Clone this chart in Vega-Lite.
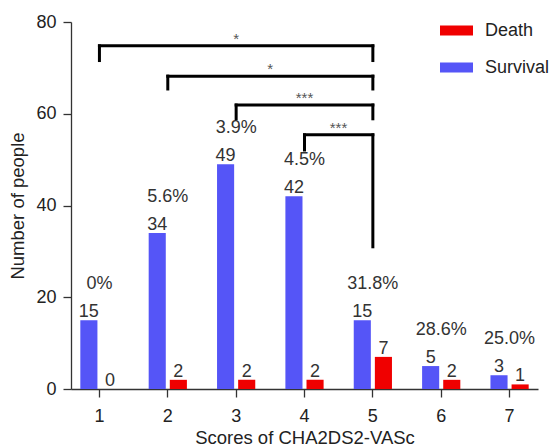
{
  "$schema": "https://vega.github.io/schema/vega-lite/v6.json",
  "width": 467,
  "height": 367,
  "autosize": {"type": "none"},
  "padding": {"left": 71, "top": 22, "right": 14, "bottom": 59},
  "config": {
    "view": {"stroke": null},
    "font": "Liberation Sans",
    "axis": {
      "grid": false,
      "domainColor": "#333333",
      "domainWidth": 1.3,
      "tickColor": "#333333",
      "tickWidth": 1.3,
      "tickSize": 8,
      "labelFontSize": 18,
      "labelColor": "#222222",
      "titleFontSize": 18.5,
      "titleFontWeight": "normal",
      "titleColor": "#222222"
    }
  },
  "datasets": {
    "bars": [
      {"score": "1", "group": "Survival", "n": 15, "pct": "0%"},
      {"score": "1", "group": "Death", "n": 0},
      {"score": "2", "group": "Survival", "n": 34, "pct": "5.6%"},
      {"score": "2", "group": "Death", "n": 2},
      {"score": "3", "group": "Survival", "n": 49, "pct": "3.9%"},
      {"score": "3", "group": "Death", "n": 2},
      {"score": "4", "group": "Survival", "n": 42, "pct": "4.5%"},
      {"score": "4", "group": "Death", "n": 2},
      {"score": "5", "group": "Survival", "n": 15, "pct": "31.8%"},
      {"score": "5", "group": "Death", "n": 7},
      {"score": "6", "group": "Survival", "n": 5, "pct": "28.6%"},
      {"score": "6", "group": "Death", "n": 2},
      {"score": "7", "group": "Survival", "n": 3, "pct": "25.0%"},
      {"score": "7", "group": "Death", "n": 1}
    ],
    "brackets": [
      {"from": "1", "to": "5", "mid": "3", "top": 74.8, "leftEnd": 71.6, "rightEnd": 71.6, "sig": "*"},
      {"from": "2", "to": "5", "mid": "3", "top": 68.2, "leftEnd": 65.4, "rightEnd": 65.4, "sig": "*"},
      {"from": "3", "to": "5", "mid": "4", "top": 61.9, "leftEnd": 58.9, "rightEnd": 58.9, "sig": "***"},
      {"from": "4", "to": "5", "mid": "4", "top": 55.4, "leftEnd": 52.1, "rightEnd": 31.0, "sig": "***"}
    ]
  },
  "data": {"name": "bars"},
  "layer": [
    {
      "mark": {"type": "bar"},
      "encoding": {
        "x": {
          "field": "score",
          "type": "nominal",
          "scale": {"domain": ["1", "2", "3", "4", "5", "6", "7"], "paddingInner": 0.3, "paddingOuter": 0.066},
          "axis": {"title": "Scores of CHA2DS2-VASc", "labelAngle": 0, "labelPadding": 10, "titlePadding": 3}
        },
        "xOffset": {
          "field": "group",
          "type": "nominal",
          "scale": {"domain": ["Survival", "Death"], "paddingInner": 0.19, "paddingOuter": 0.228}
        },
        "y": {
          "field": "n",
          "type": "quantitative",
          "scale": {"domain": [0, 80], "nice": false},
          "axis": {"title": "Number of people", "values": [0, 20, 40, 60, 80], "labelPadding": 7, "titlePadding": 8}
        },
        "color": {
          "field": "group",
          "type": "nominal",
          "scale": {"domain": ["Death", "Survival"], "range": ["#F00000", "#5555F7"]},
          "legend": {
            "orient": "none",
            "legendX": 369,
            "legendY": -8,
            "title": null,
            "padding": 0,
            "symbolType": "M-1,-0.3H1V0.3H-1Z",
            "symbolSize": 1089,
            "symbolStrokeWidth": 0,
            "labelFontSize": 18,
            "labelColor": "#222222",
            "labelOffset": 12,
            "rowPadding": 11
          }
        }
      }
    },
    {
      "mark": {"type": "text", "baseline": "alphabetic", "dy": -3, "fontSize": 18, "color": "#333333"},
      "encoding": {
        "x": {"field": "score", "type": "nominal"},
        "xOffset": {"field": "group", "type": "nominal"},
        "y": {"field": "n", "type": "quantitative"},
        "text": {"field": "n", "type": "quantitative"}
      }
    },
    {
      "transform": [{"filter": "datum.group == 'Survival'"}],
      "mark": {"type": "text", "baseline": "alphabetic", "dy": -31, "fontSize": 18, "color": "#333333"},
      "encoding": {
        "x": {"field": "score", "type": "nominal"},
        "y": {"field": "n", "type": "quantitative"},
        "text": {"field": "pct", "type": "nominal"}
      }
    },
    {
      "data": {"name": "brackets"},
      "mark": {"type": "rule", "strokeWidth": 3, "color": "#000000", "strokeCap": "square"},
      "encoding": {
        "x": {"field": "from", "type": "nominal"},
        "x2": {"field": "to"},
        "y": {"field": "top", "type": "quantitative"}
      }
    },
    {
      "data": {"name": "brackets"},
      "mark": {"type": "rule", "strokeWidth": 3, "color": "#000000", "strokeCap": "square"},
      "encoding": {
        "x": {"field": "from", "type": "nominal"},
        "y": {"field": "top", "type": "quantitative"},
        "y2": {"field": "leftEnd"}
      }
    },
    {
      "data": {"name": "brackets"},
      "mark": {"type": "rule", "strokeWidth": 3, "color": "#000000", "strokeCap": "square"},
      "encoding": {
        "x": {"field": "to", "type": "nominal"},
        "y": {"field": "top", "type": "quantitative"},
        "y2": {"field": "rightEnd"}
      }
    },
    {
      "data": {"name": "brackets"},
      "transform": [{"filter": "datum.from == '1' || datum.from == '3'"}],
      "mark": {"type": "text", "baseline": "alphabetic", "dy": -2, "fontSize": 15, "color": "#555555"},
      "encoding": {
        "x": {"field": "mid", "type": "nominal"},
        "y": {"field": "top", "type": "quantitative"},
        "text": {"field": "sig", "type": "nominal"}
      }
    },
    {
      "data": {"name": "brackets"},
      "transform": [{"filter": "datum.from == '2' || datum.from == '4'"}],
      "mark": {"type": "text", "baseline": "alphabetic", "dy": -2, "dx": 34, "fontSize": 15, "color": "#555555"},
      "encoding": {
        "x": {"field": "mid", "type": "nominal"},
        "y": {"field": "top", "type": "quantitative"},
        "text": {"field": "sig", "type": "nominal"}
      }
    }
  ]
}
